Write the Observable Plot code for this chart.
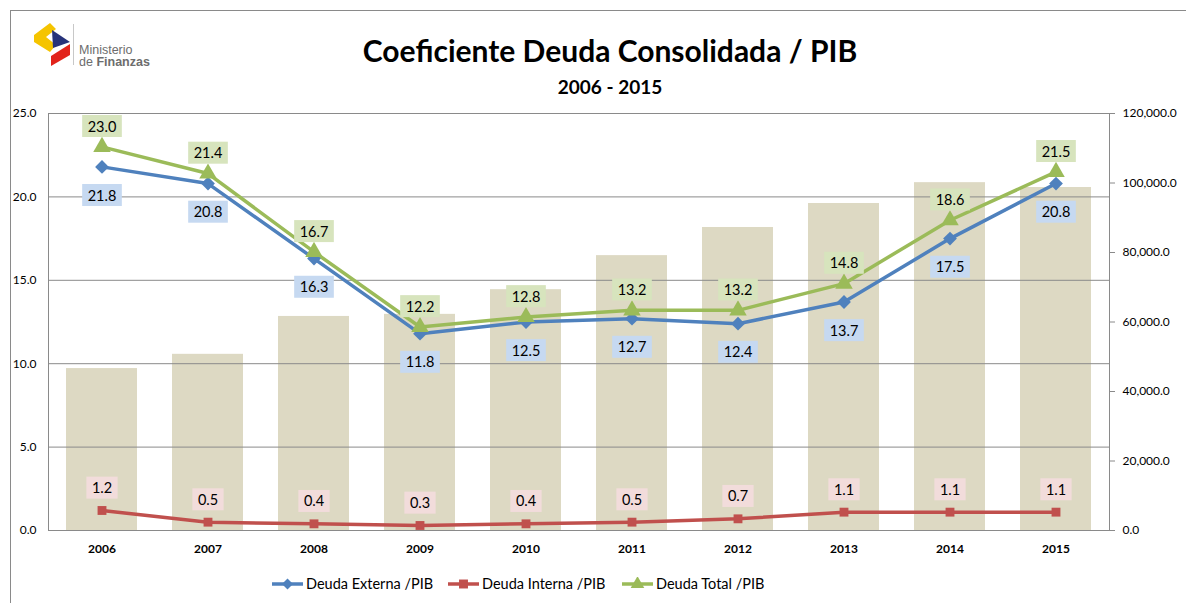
<!DOCTYPE html>
<html><head><meta charset="utf-8">
<script src="https://cdn.jsdelivr.net/npm/d3@7"></script>
<script src="https://cdn.jsdelivr.net/npm/@observablehq/plot@0.6"></script>
<style>
html,body{margin:0;padding:0;background:#fff;}
body{font-family:Lato,"Open Sans",sans-serif;color:#000;}
#wrap{position:relative;width:1186px;height:603px;overflow:hidden;}
#border{position:absolute;left:10px;top:10px;width:1200px;height:620px;border-left:1.5px solid #8a8a8a;border-top:1.5px solid #8a8a8a;}
#chart{position:absolute;left:0;top:0;}
#title{position:absolute;left:0;width:1220px;top:32px;text-align:center;font-weight:bold;font-size:30px;}
#subtitle{position:absolute;left:0;width:1220px;top:75px;text-align:center;font-weight:bold;font-size:19px;}
#logo{position:absolute;left:0;top:0;}
.leg{position:absolute;top:575px;display:flex;align-items:center;font-size:14.5px;white-space:nowrap;}
.leg svg{margin-right:3px;}
</style></head>
<body><div id="wrap">
<div id="border"></div>
<div id="chart"></div>
<svg id="logo" width="200" height="80">
  <polygon points="34,35 50,23 56,29 46,37 56,45 50,52 34,42" fill="#f5c400"/>
  <polygon points="52,30 70,42 53,48" fill="#27337a"/>
  <polygon points="51,56 70,44 70,55 51,66" fill="#e2231a"/>
  <line x1="73.5" y1="24" x2="73.5" y2="65" stroke="#c8c8c8" stroke-width="1"/>
  <text x="79" y="54" font-family="Arial, Liberation Sans, sans-serif" font-size="12.5" fill="#6d6d6d">Ministerio</text>
  <text x="79" y="66" font-family="Arial, Liberation Sans, sans-serif" font-size="12.5" fill="#6d6d6d">de <tspan font-weight="bold">Finanzas</tspan></text>
</svg>
<div id="title">Coeficiente Deuda Consolidada / PIB</div>
<div id="subtitle">2006 - 2015</div>
<div id="legend"></div>
</div>
<script>
// ---- data ----
const years = ["2006","2007","2008","2009","2010","2011","2012","2013","2014","2015"];
const deudaExterna = [21.8, 20.8, 16.3, 11.8, 12.5, 12.7, 12.4, 13.7, 17.5, 20.8];
const deudaInterna = [1.2, 0.5, 0.4, 0.3, 0.4, 0.5, 0.7, 1.1, 1.1, 1.1];
const deudaTotal   = [23.0, 21.4, 16.7, 12.2, 12.8, 13.2, 13.2, 14.8, 18.6, 21.5];
const pib          = [46600, 50700, 61600, 62200, 69300, 79100, 87200, 94100, 100100, 98700];
const leftTicks  = [0, 5, 10, 15, 20, 25];
const rightTicks = [0, 20000, 40000, 60000, 80000, 100000, 120000];
const seriesNames = ["Deuda Externa /PIB", "Deuda Interna /PIB", "Deuda Total /PIB"];

// ---- styles ----
const colors = {ext:"#4f81bd", int:"#c0504d", tot:"#9bbb59", bar:"#ddd9c3", grid:"#8a8a8a"};
const boxFill = {ext:"#c6d9f1", int:"#f2dcdb", tot:"#d7e4bd"};
const K = 25 / 120000; // right axis -> left axis

// square diamond symbol (rotated square)
const squareDiamond = {
  draw(context, size) {
    const r = Math.sqrt(size / 2);
    context.moveTo(0, -r); context.lineTo(r, 0); context.lineTo(0, r); context.lineTo(-r, 0); context.closePath();
  }
};

const rows = years.map((y, i) => ({year: y, ext: deudaExterna[i], int: deudaInterna[i], tot: deudaTotal[i], pib: pib[i]}));

const fmt1 = d3.format(".1f");
const fmtR = d3.format(",.1f");

const chart = Plot.plot({
  width: 1186, height: 603,
  marginLeft: 48, marginRight: 77, marginTop: 113, marginBottom: 73,
  style: {fontFamily: "Lato, 'Open Sans', sans-serif", fontSize: "12px", color: "#000", background: "transparent"},
  x: {type: "band", domain: years, paddingInner: 0.33, paddingOuter: 0.165},
  y: {domain: [0, 25]},
  marks: [
    Plot.barY(rows, {x: "year", y: d => d.pib * K, fill: colors.bar}),
    Plot.ruleY(leftTicks, {stroke: colors.grid, strokeWidth: 1}),
    Plot.frame({stroke: colors.grid}),
    Plot.axisY(leftTicks, {anchor: "left", tickSize: 0, tickPadding: 12, tickFormat: fmt1, label: null, fontSize: 12}),
    Plot.axisY(rightTicks.map(v => v * K), {anchor: "right", tickSize: 5, tickPadding: 8, stroke: colors.grid, tickFormat: d => fmtR(Math.round(d / K)), label: null, fontSize: 12}),
    Plot.axisX({tickSize: 0, tickPadding: 14, fontWeight: "bold", label: null, fontSize: 12}),
    Plot.line(rows, {x: "year", y: "int", stroke: colors.int, strokeWidth: 3.5}),
    Plot.line(rows, {x: "year", y: "ext", stroke: colors.ext, strokeWidth: 3.5}),
    Plot.line(rows, {x: "year", y: "tot", stroke: colors.tot, strokeWidth: 3.5}),
    Plot.dot(rows, {x: "year", y: "int", symbol: "square", r: 5, fill: colors.int}),
    Plot.dot(rows, {x: "year", y: "ext", symbol: squareDiamond, r: 5.5, fill: colors.ext}),
    Plot.dot(rows, {x: "year", y: "tot", symbol: "triangle", r: 6.5, fill: colors.tot}),
    Plot.text(rows, {x: "year", y: "tot", text: d => fmt1(d.tot), dy: -20, fontSize: 14.5, fill: "#000", ariaDescription: "lbl-tot"}),
    Plot.text(rows, {x: "year", y: "ext", text: d => fmt1(d.ext), dy: 29, fontSize: 14.5, fill: "#000", ariaDescription: "lbl-ext"}),
    Plot.text(rows, {x: "year", y: "int", text: d => fmt1(d.int), dy: -22, fontSize: 14.5, fill: "#000", ariaDescription: "lbl-int"})
  ]
});
document.getElementById("chart").appendChild(chart);

// label background boxes
for (const key of ["tot", "ext", "int"]) {
  d3.select(chart).selectAll(`[aria-description="lbl-${key}"] text`).each(function() {
    const b = this.getBBox();
    const padX = 5.5, padY = 2.5;
    const r = document.createElementNS("http://www.w3.org/2000/svg", "rect");
    r.setAttribute("x", b.x - padX);
    r.setAttribute("y", b.y - padY);
    r.setAttribute("width", b.width + 2 * padX);
    r.setAttribute("height", b.height + 2 * padY);
    r.setAttribute("fill", boxFill[key]);
    const t = this.getAttribute("transform");
    if (t) r.setAttribute("transform", t);
    this.parentNode.insertBefore(r, this);
  });
}

// legend
const legendItems = [
  {name: seriesNames[0], color: colors.ext, sym: squareDiamond, size: 60, left: 272},
  {name: seriesNames[1], color: colors.int, sym: d3.symbolSquare, size: 80, left: 448},
  {name: seriesNames[2], color: colors.tot, sym: d3.symbolTriangle, size: 80, left: 622}
];
const legend = d3.select("#legend");
for (const it of legendItems) {
  const div = legend.append("div").attr("class", "leg").style("left", it.left + "px");
  const s = div.append("svg").attr("width", 31).attr("height", 14);
  s.append("line").attr("x1", 0).attr("x2", 31).attr("y1", 7).attr("y2", 7).attr("stroke", it.color).attr("stroke-width", 3.5);
  s.append("path").attr("d", d3.symbol(it.sym, it.size)()).attr("transform", "translate(15.5,7)").attr("fill", it.color);
  div.append("span").text(it.name);
}
</script>
</body></html>
